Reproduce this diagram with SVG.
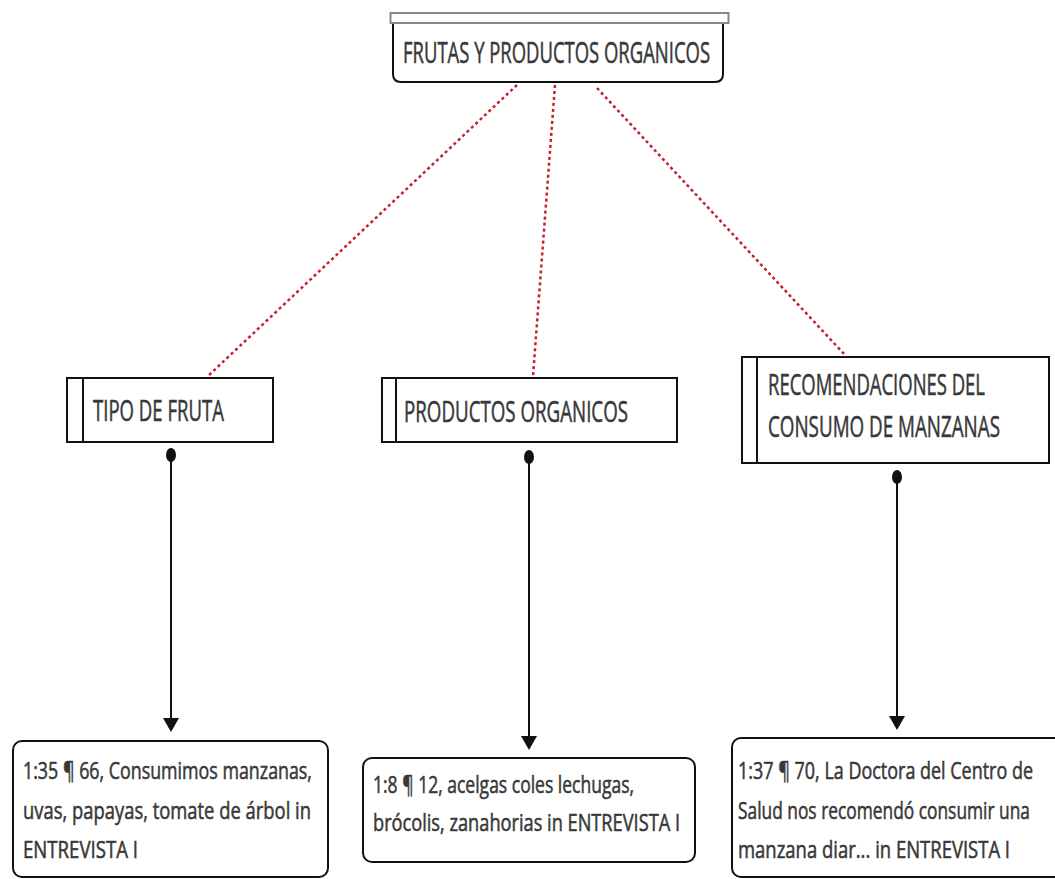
<svg xmlns="http://www.w3.org/2000/svg" width="1055" height="879" viewBox="0 0 1055 879">
<style>
.lbl{font-family:"Open Sans","Liberation Sans",sans-serif;fill:#383838;stroke:#383838;stroke-width:0.55;}
.big{font-size:30px;}
.small{font-size:24px;}
.box{fill:#fff;stroke:#111;stroke-width:2;}
.dash{stroke:#c8202a;stroke-width:2.5;stroke-dasharray:3 3;fill:none;}
.arr{stroke:#111;stroke-width:2;fill:none;}
</style>
<rect width="1055" height="879" fill="#fff"/>
<g id="connectors">
<line class="dash" x1="517" y1="85" x2="208" y2="376"/>
<line class="dash" x1="555" y1="85" x2="533" y2="376"/>
<line class="dash" x1="597" y1="88" x2="845" y2="355"/>
<ellipse cx="171" cy="455" rx="5" ry="7" fill="#111"/>
<line class="arr" x1="171" y1="455" x2="171" y2="718"/>
<path d="M163,718 L179,718 L171,732 Z" fill="#111"/>
<ellipse cx="529" cy="457" rx="5" ry="7" fill="#111"/>
<line class="arr" x1="529" y1="457" x2="529" y2="736"/>
<path d="M521,736 L537,736 L529,750 Z" fill="#111"/>
<ellipse cx="897" cy="477" rx="5" ry="7" fill="#111"/>
<line class="arr" x1="897" y1="477" x2="897" y2="716"/>
<path d="M889,716 L905,716 L897,730 Z" fill="#111"/>
</g>
<g id="n-root">
<path class="box" d="M393,23 L723,23 L723,74 Q723,82 715,82 L401,82 Q393,82 393,74 Z"/>
<rect x="390.5" y="13" width="338" height="10" fill="#fff" stroke="#888" stroke-width="2"/>
<text class="lbl big" transform="translate(403,63) scale(0.7,1)" textLength="438.6" lengthAdjust="spacingAndGlyphs">FRUTAS Y PRODUCTOS ORGANICOS</text>
</g>
<g id="n-tipo">
<rect class="box" x="67" y="378" width="206" height="64"/>
<line x1="83" y1="378" x2="83" y2="442" stroke="#111" stroke-width="2"/>
<text class="lbl big" transform="translate(93,421) scale(0.7,1)" textLength="187" lengthAdjust="spacingAndGlyphs">TIPO DE FRUTA</text>
</g>
<g id="n-productos">
<rect class="box" x="382" y="378" width="295" height="64"/>
<line x1="396" y1="378" x2="396" y2="442" stroke="#111" stroke-width="2"/>
<text class="lbl big" transform="translate(404,422) scale(0.7,1)" textLength="320" lengthAdjust="spacingAndGlyphs">PRODUCTOS ORGANICOS</text>
</g>
<g id="n-recom">
<rect class="box" x="742" y="357" width="307" height="106"/>
<line x1="757" y1="357" x2="757" y2="463" stroke="#111" stroke-width="2"/>
<text class="lbl big" transform="translate(768,395) scale(0.7,1)" textLength="310" lengthAdjust="spacingAndGlyphs">RECOMENDACIONES DEL</text>
<text class="lbl big" transform="translate(768,437) scale(0.7,1)" textLength="331.4" lengthAdjust="spacingAndGlyphs">CONSUMO DE MANZANAS</text>
</g>
<g id="n-q1">
<rect class="box" x="13" y="741" width="315" height="136" rx="9"/>
<text class="lbl small" transform="translate(23,779) scale(0.75,1)" textLength="385.3" lengthAdjust="spacingAndGlyphs">1:35 ¶ 66, Consumimos manzanas,</text>
<text class="lbl small" transform="translate(23,819) scale(0.75,1)" textLength="384" lengthAdjust="spacingAndGlyphs">uvas, papayas, tomate de árbol in</text>
<text class="lbl small" transform="translate(23,858) scale(0.75,1)" textLength="153.3" lengthAdjust="spacingAndGlyphs">ENTREVISTA I</text>
</g>
<g id="n-q2">
<rect class="box" x="363" y="758" width="332" height="104" rx="9"/>
<text class="lbl small" transform="translate(373,793) scale(0.75,1)" textLength="348" lengthAdjust="spacingAndGlyphs">1:8 ¶ 12, acelgas coles lechugas,</text>
<text class="lbl small" transform="translate(373,831) scale(0.75,1)" textLength="409.3" lengthAdjust="spacingAndGlyphs">brócolis, zanahorias in ENTREVISTA I</text>
</g>
<g id="n-q3">
<rect class="box" x="732" y="738" width="335" height="139" rx="9"/>
<text class="lbl small" transform="translate(738,779) scale(0.75,1)" textLength="393.3" lengthAdjust="spacingAndGlyphs">1:37 ¶ 70, La Doctora del Centro de</text>
<text class="lbl small" transform="translate(738,819) scale(0.75,1)" textLength="389.3" lengthAdjust="spacingAndGlyphs">Salud nos recomendó consumir una</text>
<text class="lbl small" transform="translate(738,858) scale(0.75,1)" textLength="362.7" lengthAdjust="spacingAndGlyphs">manzana diar... in ENTREVISTA I</text>
</g>
</svg>
